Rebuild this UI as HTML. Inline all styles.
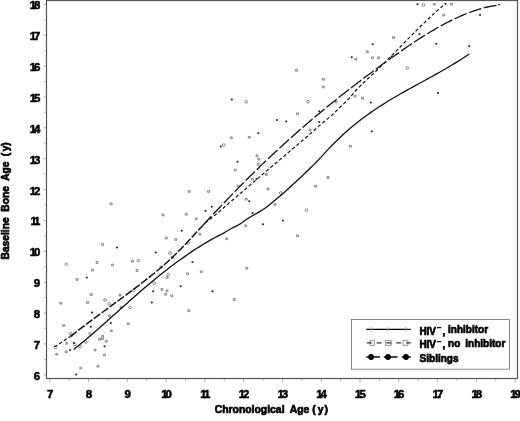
<!DOCTYPE html>
<html><head><meta charset="utf-8"><title>Bone age vs chronological age</title>
<style>
html,body{margin:0;padding:0;background:#fff;}
body{width:520px;height:421px;overflow:hidden;}
svg{display:block;}
text{font-family:"Liberation Sans",sans-serif;font-weight:bold;fill:#000;stroke:#000;stroke-width:0.5px;}
.tk{font-size:10.1px;letter-spacing:-1.8px;}
.ttl{font-size:10.4px;word-spacing:2.6px;}
.ytl{font-size:10.25px;word-spacing:2.8px;}
.ttl,.ytl,.lg{stroke-width:0.65px;}
.lg{font-size:10px;word-spacing:2.2px;}
</style></head><body>
<svg width="520" height="421" viewBox="0 0 520 421">
<rect x="0" y="0" width="520" height="421" fill="#fff"/>
<rect x="46.5" y="0.5" width="471" height="378" fill="none" stroke="#555" stroke-width="1.2"/>
<path d="M49.8 379V382M69.2 379V380.6M88.6 379V382M108.0 379V380.6M127.3 379V382M146.7 379V380.6M166.1 379V382M185.5 379V380.6M204.9 379V382M224.3 379V380.6M243.7 379V382M263.0 379V380.6M282.4 379V382M301.8 379V380.6M321.2 379V382M340.6 379V380.6M360.0 379V382M379.3 379V380.6M398.7 379V382M418.1 379V380.6M437.5 379V382M456.9 379V380.6M476.3 379V382M495.7 379V380.6M515.0 379V382M43.6 374.8H46M44.5 359.4H46M43.6 343.9H46M44.5 328.5H46M43.6 313.1H46M44.5 297.6H46M43.6 282.2H46M44.5 266.8H46M43.6 251.3H46M44.5 235.9H46M43.6 220.5H46M44.5 205.0H46M43.6 189.6H46M44.5 174.1H46M43.6 158.7H46M44.5 143.3H46M43.6 127.8H46M44.5 112.4H46M43.6 97.0H46M44.5 81.5H46M43.6 66.1H46M44.5 50.7H46M43.6 35.2H46M44.5 19.8H46M43.6 4.4H46" stroke="#a4a4a4" stroke-width="1" fill="none"/>
<text class="tk" transform="translate(49.1,397.8) scale(1.13,1)" text-anchor="middle">7</text>
<text class="tk" transform="translate(87.9,397.8) scale(1.13,1)" text-anchor="middle">8</text>
<text class="tk" transform="translate(126.6,397.8) scale(1.13,1)" text-anchor="middle">9</text>
<text class="tk" transform="translate(165.5,397.8) scale(1.13,1)" text-anchor="middle">10</text>
<text class="tk" transform="translate(204.3,397.8) scale(1.13,1)" text-anchor="middle">11</text>
<text class="tk" transform="translate(243.1,397.8) scale(1.13,1)" text-anchor="middle">12</text>
<text class="tk" transform="translate(281.8,397.8) scale(1.13,1)" text-anchor="middle">13</text>
<text class="tk" transform="translate(320.6,397.8) scale(1.13,1)" text-anchor="middle">14</text>
<text class="tk" transform="translate(359.4,397.8) scale(1.13,1)" text-anchor="middle">15</text>
<text class="tk" transform="translate(398.1,397.8) scale(1.13,1)" text-anchor="middle">16</text>
<text class="tk" transform="translate(436.9,397.8) scale(1.13,1)" text-anchor="middle">17</text>
<text class="tk" transform="translate(475.7,397.8) scale(1.13,1)" text-anchor="middle">18</text>
<text class="tk" transform="translate(514.5,397.8) scale(1.13,1)" text-anchor="middle">19</text>
<text class="tk" transform="translate(38.1,379.7) scale(1.13,1)" text-anchor="end">6</text>
<text class="tk" transform="translate(38.1,348.8) scale(1.13,1)" text-anchor="end">7</text>
<text class="tk" transform="translate(38.1,318.0) scale(1.13,1)" text-anchor="end">8</text>
<text class="tk" transform="translate(38.1,287.1) scale(1.13,1)" text-anchor="end">9</text>
<text class="tk" transform="translate(38.4,256.2) scale(1.13,1)" text-anchor="end">10</text>
<text class="tk" transform="translate(38.4,225.4) scale(1.13,1)" text-anchor="end">11</text>
<text class="tk" transform="translate(38.4,194.5) scale(1.13,1)" text-anchor="end">12</text>
<text class="tk" transform="translate(38.4,163.6) scale(1.13,1)" text-anchor="end">13</text>
<text class="tk" transform="translate(38.4,132.7) scale(1.13,1)" text-anchor="end">14</text>
<text class="tk" transform="translate(38.4,101.9) scale(1.13,1)" text-anchor="end">15</text>
<text class="tk" transform="translate(38.4,71.0) scale(1.13,1)" text-anchor="end">16</text>
<text class="tk" transform="translate(38.4,40.1) scale(1.13,1)" text-anchor="end">17</text>
<text class="tk" transform="translate(38.4,9.3) scale(1.13,1)" text-anchor="end">18</text>
<text class="ttl" x="214.7" y="412.8">Chronological Age <tspan dx="-2.6">(</tspan><tspan dx="2.0">y</tspan><tspan dx="1.0">)</tspan></text>
<text class="ytl" transform="translate(9.2,259.5) rotate(-90)">Baseline Bone Age <tspan dx="-0.5">(</tspan><tspan dx="1.6">y</tspan><tspan dx="-0.1">)</tspan></text>
<path d="M295.50 69.40h2.0v1.7h-2.0zM110.20 202.95h2.0v1.7h-2.0zM322.25 78.40h2.0v1.7h-2.0zM322.25 86.15h2.0v1.7h-2.0zM354.75 58.40h2.0v1.7h-2.0zM366.25 50.90h2.0v1.7h-2.0zM371.50 56.90h2.0v1.7h-2.0zM377.50 56.90h2.0v1.7h-2.0zM354.00 95.40h2.0v1.7h-2.0zM361.50 97.40h2.0v1.7h-2.0zM335.00 101.15h2.0v1.7h-2.0zM433.25 3.40h2.0v1.7h-2.0zM450.50 3.40h2.0v1.7h-2.0zM442.75 14.15h2.0v1.7h-2.0zM392.50 36.65h2.0v1.7h-2.0zM230.25 136.90h2.0v1.7h-2.0zM248.25 136.40h2.0v1.7h-2.0zM256.00 154.90h2.0v1.7h-2.0zM257.75 158.40h2.0v1.7h-2.0zM257.25 163.65h2.0v1.7h-2.0zM234.25 169.15h2.0v1.7h-2.0zM251.50 178.40h2.0v1.7h-2.0zM237.25 185.40h2.0v1.7h-2.0zM188.25 190.65h2.0v1.7h-2.0zM207.50 190.65h2.0v1.7h-2.0zM245.25 198.40h2.0v1.7h-2.0zM296.50 112.90h2.0v1.7h-2.0zM309.00 129.15h2.0v1.7h-2.0zM349.50 145.40h2.0v1.7h-2.0zM265.25 173.65h2.0v1.7h-2.0zM327.00 176.65h2.0v1.7h-2.0zM314.50 185.40h2.0v1.7h-2.0zM267.00 188.15h2.0v1.7h-2.0zM274.00 203.40h2.0v1.7h-2.0zM101.50 243.65h2.0v1.7h-2.0zM96.00 261.65h2.0v1.7h-2.0zM111.50 264.15h2.0v1.7h-2.0zM91.50 269.15h2.0v1.7h-2.0zM76.00 278.65h2.0v1.7h-2.0zM59.75 302.40h2.0v1.7h-2.0zM90.25 293.65h2.0v1.7h-2.0zM86.50 301.65h2.0v1.7h-2.0zM119.00 294.15h2.0v1.7h-2.0zM120.25 306.65h2.0v1.7h-2.0zM162.00 214.15h2.0v1.7h-2.0zM185.25 213.40h2.0v1.7h-2.0zM195.25 217.90h2.0v1.7h-2.0zM244.75 224.90h2.0v1.7h-2.0zM198.75 233.40h2.0v1.7h-2.0zM165.25 237.15h2.0v1.7h-2.0zM174.75 238.65h2.0v1.7h-2.0zM225.75 237.90h2.0v1.7h-2.0zM171.50 256.65h2.0v1.7h-2.0zM131.50 260.40h2.0v1.7h-2.0zM136.00 269.65h2.0v1.7h-2.0zM245.75 267.40h2.0v1.7h-2.0zM200.25 270.90h2.0v1.7h-2.0zM186.50 272.90h2.0v1.7h-2.0zM166.00 276.65h2.0v1.7h-2.0zM161.00 288.65h2.0v1.7h-2.0zM166.00 289.90h2.0v1.7h-2.0zM164.75 293.40h2.0v1.7h-2.0zM170.75 294.90h2.0v1.7h-2.0zM233.25 298.65h2.0v1.7h-2.0zM187.75 309.90h2.0v1.7h-2.0zM296.50 234.90h2.0v1.7h-2.0zM108.25 314.90h2.0v1.7h-2.0zM62.75 324.65h2.0v1.7h-2.0zM127.25 322.90h2.0v1.7h-2.0zM110.25 329.90h2.0v1.7h-2.0zM70.25 334.65h2.0v1.7h-2.0zM101.50 335.40h2.0v1.7h-2.0zM98.50 338.40h2.0v1.7h-2.0zM101.50 337.90h2.0v1.7h-2.0zM105.25 340.40h2.0v1.7h-2.0zM65.75 342.40h2.0v1.7h-2.0zM65.25 350.90h2.0v1.7h-2.0zM94.00 349.15h2.0v1.7h-2.0zM55.75 353.40h2.0v1.7h-2.0zM103.50 354.15h2.0v1.7h-2.0zM97.00 365.40h2.0v1.7h-2.0zM79.75 367.15h2.0v1.7h-2.0z" fill="none" stroke="#7c7c7c" stroke-width="0.9"/>
<circle cx="246.25" cy="101.75" r="1.35" fill="none" stroke="#777" stroke-width="0.85"/>
<circle cx="306.50" cy="210.20" r="1.35" fill="none" stroke="#777" stroke-width="0.85"/>
<circle cx="161.30" cy="267.00" r="1.35" fill="none" stroke="#777" stroke-width="0.85"/>
<circle cx="308.00" cy="101.75" r="1.35" fill="none" stroke="#777" stroke-width="0.85"/>
<circle cx="423.50" cy="5.00" r="1.35" fill="none" stroke="#777" stroke-width="0.85"/>
<circle cx="407.50" cy="67.75" r="1.35" fill="none" stroke="#777" stroke-width="0.85"/>
<circle cx="223.75" cy="145.00" r="1.35" fill="none" stroke="#777" stroke-width="0.85"/>
<circle cx="280.75" cy="193.00" r="1.35" fill="none" stroke="#777" stroke-width="0.85"/>
<circle cx="66.25" cy="264.25" r="1.35" fill="none" stroke="#777" stroke-width="0.85"/>
<circle cx="105.00" cy="300.00" r="1.35" fill="none" stroke="#777" stroke-width="0.85"/>
<circle cx="109.25" cy="303.75" r="1.35" fill="none" stroke="#777" stroke-width="0.85"/>
<circle cx="188.25" cy="243.00" r="1.35" fill="none" stroke="#777" stroke-width="0.85"/>
<circle cx="170.00" cy="253.00" r="1.35" fill="none" stroke="#777" stroke-width="0.85"/>
<circle cx="138.25" cy="260.75" r="1.35" fill="none" stroke="#777" stroke-width="0.85"/>
<circle cx="168.25" cy="274.50" r="1.35" fill="none" stroke="#777" stroke-width="0.85"/>
<circle cx="154.25" cy="283.25" r="1.35" fill="none" stroke="#777" stroke-width="0.85"/>
<circle cx="133.75" cy="290.50" r="1.35" fill="none" stroke="#777" stroke-width="0.85"/>
<circle cx="130.00" cy="307.50" r="1.35" fill="none" stroke="#777" stroke-width="0.85"/>
<circle cx="70.75" cy="333.75" r="1.35" fill="none" stroke="#777" stroke-width="0.85"/>
<circle cx="90.00" cy="333.75" r="1.35" fill="none" stroke="#777" stroke-width="0.85"/>
<circle cx="75.00" cy="344.50" r="1.35" fill="none" stroke="#777" stroke-width="0.85"/>
<circle cx="85.75" cy="342.00" r="1.35" fill="none" stroke="#777" stroke-width="0.85"/>
<circle cx="55.50" cy="347.50" r="1.35" fill="none" stroke="#777" stroke-width="0.85"/>
<circle cx="80.00" cy="346.25" r="1.35" fill="none" stroke="#777" stroke-width="0.85"/>
<circle cx="231.75" cy="99.50" r="1.05" fill="#222"/>
<circle cx="419.40" cy="34.00" r="1.05" fill="#222"/>
<circle cx="351.75" cy="57.25" r="1.05" fill="#222"/>
<circle cx="372.75" cy="44.25" r="1.05" fill="#222"/>
<circle cx="391.50" cy="57.00" r="1.05" fill="#222"/>
<circle cx="256.50" cy="179.00" r="1.05" fill="#222"/>
<circle cx="205.50" cy="210.80" r="1.05" fill="#222"/>
<circle cx="370.75" cy="102.50" r="1.05" fill="#222"/>
<circle cx="417.50" cy="4.25" r="1.05" fill="#222"/>
<circle cx="445.50" cy="3.75" r="1.05" fill="#222"/>
<circle cx="480.00" cy="15.00" r="1.05" fill="#222"/>
<circle cx="436.25" cy="43.75" r="1.05" fill="#222"/>
<circle cx="469.25" cy="46.00" r="1.05" fill="#222"/>
<circle cx="438.00" cy="93.00" r="1.05" fill="#222"/>
<circle cx="258.25" cy="133.25" r="1.05" fill="#222"/>
<circle cx="220.75" cy="146.50" r="1.05" fill="#222"/>
<circle cx="237.50" cy="161.75" r="1.05" fill="#222"/>
<circle cx="249.25" cy="201.25" r="1.05" fill="#222"/>
<circle cx="211.75" cy="206.75" r="1.05" fill="#222"/>
<circle cx="277.00" cy="120.00" r="1.05" fill="#222"/>
<circle cx="286.25" cy="121.50" r="1.05" fill="#222"/>
<circle cx="319.25" cy="111.25" r="1.05" fill="#222"/>
<circle cx="319.25" cy="122.00" r="1.05" fill="#222"/>
<circle cx="371.75" cy="131.25" r="1.05" fill="#222"/>
<circle cx="117.00" cy="247.50" r="1.05" fill="#222"/>
<circle cx="86.75" cy="277.50" r="1.05" fill="#222"/>
<circle cx="92.00" cy="312.50" r="1.05" fill="#222"/>
<circle cx="252.50" cy="213.00" r="1.05" fill="#222"/>
<circle cx="181.75" cy="230.75" r="1.05" fill="#222"/>
<circle cx="155.75" cy="252.50" r="1.05" fill="#222"/>
<circle cx="192.50" cy="262.00" r="1.05" fill="#222"/>
<circle cx="180.75" cy="286.25" r="1.05" fill="#222"/>
<circle cx="153.25" cy="291.25" r="1.05" fill="#222"/>
<circle cx="212.50" cy="291.25" r="1.05" fill="#222"/>
<circle cx="151.75" cy="302.50" r="1.05" fill="#222"/>
<circle cx="263.00" cy="224.25" r="1.05" fill="#222"/>
<circle cx="283.00" cy="220.50" r="1.05" fill="#222"/>
<circle cx="90.75" cy="326.75" r="1.05" fill="#222"/>
<circle cx="110.75" cy="323.00" r="1.05" fill="#222"/>
<circle cx="73.75" cy="343.00" r="1.05" fill="#222"/>
<circle cx="104.50" cy="346.25" r="1.05" fill="#222"/>
<circle cx="70.00" cy="350.00" r="1.05" fill="#222"/>
<circle cx="76.25" cy="374.50" r="1.05" fill="#222"/>
<path d="M73.6 349.5L76.6 347.1L79.6 344.7L82.6 342.2L85.6 339.8L88.6 337.2L91.6 334.7L94.6 332.1L97.6 329.5L100.6 326.8L103.6 324.2L106.6 321.5L109.6 318.8L112.6 316.1L115.6 313.5L118.6 310.8L121.6 308.1L124.6 305.4L127.6 302.7L130.6 300.0L133.6 297.4L136.6 294.7L139.6 292.1L142.6 289.5L145.6 287.0L148.6 284.4L151.6 281.9L154.6 279.4L157.6 277.0L160.6 274.6L163.6 272.2L166.6 269.9L169.6 267.5L172.6 265.3L175.6 263.0L178.6 260.8L181.6 258.7L184.6 256.6L187.6 254.5L190.6 252.4L193.6 250.4L196.6 248.5L199.6 246.6L202.6 244.7L205.6 242.9L208.6 241.1L211.6 239.4L214.6 237.7L217.6 236.2L220.6 234.7L223.6 233.1L226.6 231.3L229.6 229.5L232.6 227.8L235.6 226.4L238.6 224.9L241.6 223.0L244.6 220.8L247.6 218.6L250.6 216.8L253.6 215.1L256.6 213.4L259.6 211.6L262.6 209.7L265.6 207.7L268.6 205.4L271.6 203.1L274.6 200.6L277.6 198.1L280.6 195.5L283.6 192.9L286.6 190.2L289.6 187.5L292.6 184.7L295.6 182.0L298.6 179.2L301.6 176.4L304.6 173.6L307.6 170.7L310.6 167.8L313.6 164.9L316.6 161.8L319.6 158.6L322.6 155.4L325.6 152.1L328.6 148.9L331.6 145.7L334.6 142.7L337.6 139.7L340.6 136.9L343.6 134.1L346.6 131.4L349.6 128.8L352.6 126.3L355.6 123.8L358.6 121.4L361.6 119.1L364.6 116.9L367.6 114.7L370.6 112.6L373.6 110.5L376.6 108.5L379.6 106.5L382.6 104.6L385.6 102.7L388.6 100.8L391.6 99.0L394.6 97.3L397.6 95.5L400.6 93.8L403.6 92.1L406.6 90.4L409.6 88.7L412.6 87.1L415.6 85.4L418.6 83.8L421.6 82.2L424.6 80.5L427.6 78.9L430.6 77.2L433.6 75.6L436.6 73.9L439.6 72.2L442.6 70.5L445.6 68.8L448.6 67.0L451.6 65.3L454.6 63.4L457.6 61.6L460.6 59.7L463.6 57.8L466.6 55.8L469.3 54.0" fill="none" stroke="#111" stroke-width="1.3"/>
<path d="M54.3 347.1L62.0 342.0L70.5 336.4" fill="none" stroke="#111" stroke-width="1.2" stroke-dasharray="3.4 2.3"/>
<path d="M70.5 336.5L73.5 334.1L76.5 331.8L79.5 329.4L82.5 327.1L85.5 324.9L88.5 322.6L91.5 320.3L94.5 318.1L97.5 315.9L100.5 313.7L103.5 311.5L106.5 309.3L109.5 307.1L112.5 304.9L115.5 302.7L118.5 300.5L121.5 298.3L124.5 296.1L127.5 293.9L130.5 291.6L133.5 289.4L136.5 287.1L139.5 284.8L142.5 282.5L145.5 280.2L148.5 277.8L151.5 275.4L154.5 273.0L157.5 270.5L160.5 268.0L163.5 265.4L166.5 262.7L169.5 260.0L172.5 257.2L175.5 254.3L178.5 251.3L181.5 248.3L184.5 245.2L187.5 242.0L190.5 238.8L193.5 235.5L196.5 232.3L199.5 229.0L202.5 225.7" fill="none" stroke="#111" stroke-width="1.5" stroke-dasharray="8 1.8"/>
<path d="M202.5 225.7L205.5 222.5L208.5 219.2L211.5 216.0L214.5 212.8L217.5 209.7L220.5 206.5L223.5 203.3L226.5 200.2L229.5 197.1L232.5 194.0L235.5 190.9L238.5 187.9L241.5 184.8L244.5 181.8L247.5 178.8L250.5 175.8L253.5 172.9L256.5 169.9L259.5 167.0L262.5 164.1L265.5 161.2L268.5 158.4L271.5 155.5L274.5 152.7L277.5 150.0L280.5 147.2L283.5 144.4L286.5 141.7L289.5 139.0L292.5 136.4L295.5 133.7L298.5 131.1L301.5 128.4L304.5 125.9L307.5 123.3L310.5 120.7L313.5 118.2L316.5 115.7L319.5 113.2L322.5 110.7L325.5 108.2L328.5 105.8L331.5 103.3L334.5 100.9L337.5 98.5L340.5 96.1L343.5 93.8L346.5 91.4L349.5 89.1L352.5 86.8L355.5 84.5L358.5 82.2L361.5 79.9L364.5 77.6L367.5 75.4L370.5 73.2L373.5 70.9L376.5 68.7L379.5 66.5L382.5 64.3L385.5 62.2L388.5 60.0L391.5 57.8L394.5 55.7L397.5 53.6L400.5 51.5L403.5 49.4L406.5 47.3L409.5 45.3L412.5 43.3L415.5 41.3L418.5 39.3L421.5 37.4L424.5 35.5L427.5 33.7L430.5 31.8L433.5 30.1L436.5 28.3L439.5 26.6L442.5 25.0L445.5 23.4L448.5 21.8L451.5 20.3L454.5 18.9L457.5 17.5L460.5 16.2L463.5 14.9L466.5 13.7L469.5 12.5L472.5 11.4L475.5 10.4L478.5 9.4L481.5 8.6L484.5 7.7L487.5 7.0L490.5 6.4L493.5 5.8L496.5 5.3L498.7 5.0" fill="none" stroke="#111" stroke-width="1.3" stroke-dasharray="13 2.6"/>
<path d="M205.1 222.9L208.1 220.6L211.1 218.3L214.1 215.9L217.1 213.4L220.1 210.9L223.1 208.3L226.1 205.7L229.1 203.1L232.1 200.5L235.1 197.9L238.1 195.3L241.1 192.7L244.1 190.2L247.1 187.6L250.1 185.1L253.1 182.5L256.1 180.0L259.1 177.4L262.1 174.8L265.1 172.2L268.1 169.7L271.1 167.1L274.1 164.6L277.1 162.0L280.1 159.5L283.1 156.9L286.1 154.4L289.1 151.9L292.1 149.3L295.1 146.8L298.1 144.2L301.1 141.6L304.1 139.1L307.1 136.5L310.1 133.9L313.1 131.2L316.1 128.6L319.1 125.9L322.1 123.3L325.1 120.7L328.1 118.4L331.1 115.9L334.1 113.2L337.1 110.2L340.1 107.1L343.1 104.4L346.1 101.5L349.1 98.3L352.1 94.9L355.1 91.4L358.1 88.1L361.1 85.0L364.1 82.2L367.1 79.4L370.1 76.6L373.1 73.9L376.1 71.0L379.1 68.1L382.1 65.2L385.1 62.2L388.1 59.2L391.1 56.2L394.1 53.2L397.1 50.1L400.1 47.0L403.1 43.9L406.1 40.9L409.1 37.8L412.1 34.8L415.1 31.7L418.1 28.7L421.1 25.8L424.1 22.9L427.1 20.0L430.1 17.2L433.1 14.4L436.1 11.7L439.1 9.1L442.1 6.5L445.1 4.0L445.2 4.0" fill="none" stroke="#111" stroke-width="1.2" stroke-dasharray="3.4 2.3"/>
<circle cx="498.9" cy="4.5" r="0.85" fill="#111"/>
<rect x="351.5" y="319.5" width="158" height="49.7" fill="#fff" stroke="#7c7c7c" stroke-width="0.9"/>
<path d="M366.3 329.35H410.8" stroke="#000" stroke-width="1.3"/>
<path d="M371.1 327v4.4M387.7 327v4.4M406 327v4.4" stroke="#aaa" stroke-width="1"/>
<path d="M370 340.4h4.4v5h-4.4zM385.6 340.4h5.6v5h-5.6zM403 340.4h5v5h-5z" stroke="#888" stroke-width="0.9" fill="none"/>
<path d="M366.9 342.9H410.8" stroke="#333" stroke-width="1.1" stroke-dasharray="4.8 5"/>
<path d="M366.3 357h13.8M383.8 357h13.7M401.8 357h9" stroke="#111" stroke-width="1.3"/>
<circle cx="371.1" cy="357" r="2.9" fill="#000"/><circle cx="388" cy="357" r="2.9" fill="#000"/><circle cx="406" cy="357" r="2.9" fill="#000"/>
<text class="lg"><tspan x="419.6" y="334.5" letter-spacing="-0.2">HIV</tspan><tspan x="437.1" y="329.9" font-size="7">−</tspan><tspan x="442.6" y="334.5">, </tspan><tspan x="448.1" y="333">inhibitor</tspan></text>
<text class="lg"><tspan x="419.6" y="347.9" letter-spacing="-0.2">HIV</tspan><tspan x="437.1" y="343.6" font-size="7">−</tspan><tspan x="442.6" y="347.9">, </tspan><tspan x="448.1" y="346.7">no inhibitor</tspan></text>
<text class="lg" x="419.6" y="361.9">Siblings</text>
</svg>
</body></html>
